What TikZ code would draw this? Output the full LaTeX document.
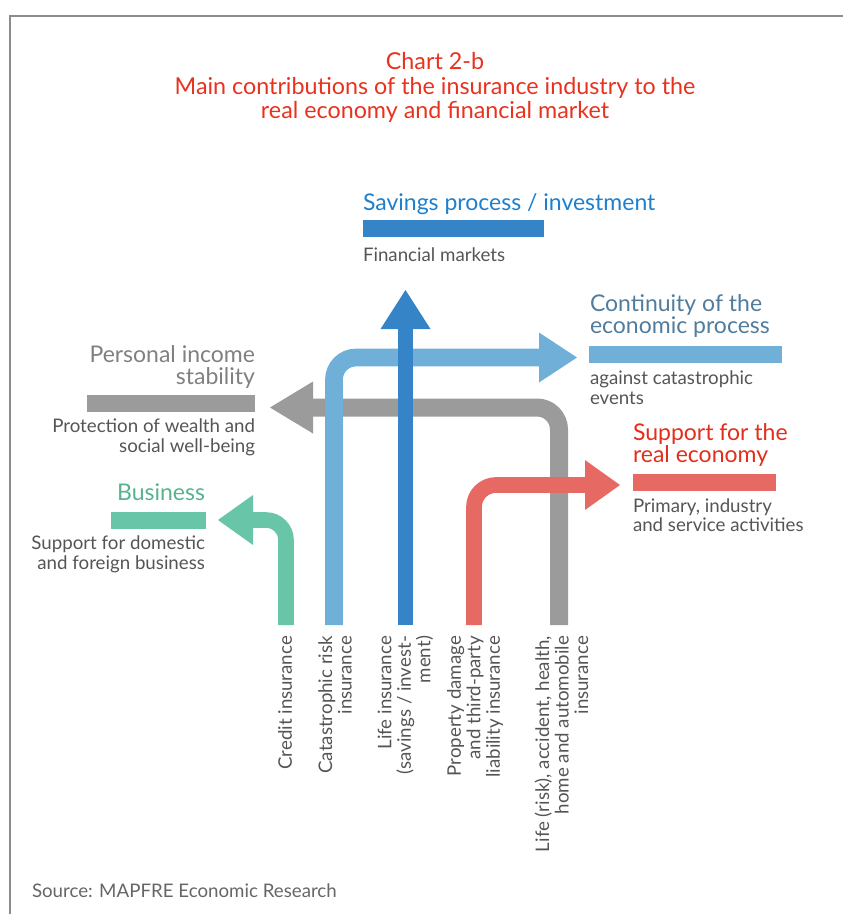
\documentclass[tikz,border=0pt]{standalone}
\usepackage{fontspec}
\setmainfont{Lato}
\usetikzlibrary{arrows.meta}
\definecolor{titlered}{RGB}{232,50,30}
\definecolor{savblue}{RGB}{30,128,205}
\definecolor{contblue}{RGB}{80,124,158}
\definecolor{persgray}{RGB}{128,128,128}
\definecolor{busgreen}{RGB}{88,178,142}
\definecolor{suppred}{RGB}{226,46,26}
\definecolor{bodygray}{RGB}{85,85,85}
\definecolor{framegray}{RGB}{140,140,140}
\definecolor{cdark}{RGB}{53,132,200}
\definecolor{clight}{RGB}{112,176,216}
\definecolor{cgray}{RGB}{155,155,155}
\definecolor{cred}{RGB}{230,106,99}
\definecolor{cgreen}{RGB}{104,197,167}
\newcommand\ttlfnt{\fontsize{23.3}{24.5}\selectfont}
\newcommand\hdfnt{\fontsize{23}{22}\selectfont}
\newcommand\bdfnt{\fontsize{18.7}{19.5}\selectfont}
\tikzset{
  bar/.style={fill=#1, minimum height=17pt, draw=none},
  heading/.style={font=\hdfnt},
  body/.style={font=\bdfnt, text=bodygray},
  vlabel/.style={font=\bdfnt, text=bodygray, rotate=90, anchor=east, align=right},
  flow/.style={draw=#1, line cap=butt, rounded corners=22pt},
}
\begin{document}
\begin{tikzpicture}[x=1pt,y=-1pt, every node/.style={inner sep=0pt, outer sep=0pt}]
\useasboundingbox (0,0) rectangle (843,914);
% frame
\draw[framegray, line width=2pt] (843,16) -- (10,16) -- (10,914);
% title (base = baseline of last line)
\node[font=\ttlfnt, text=titlered, align=center, anchor=base] (title) at (435,118.5)
  {Chart 2-b\\Main contributions of the insurance industry to the\\real economy and financial market};
% bars
\node[bar=cdark, minimum width=181pt] (savbar) at (453.5,228.5) {};
\node[bar=clight, minimum width=193pt] (contbar) at (685.5,354.5) {};
\node[bar=cgray, minimum width=168pt] (persbar) at (171,403.5) {};
\node[bar=cgreen, minimum width=95pt] (busbar) at (158.5,520.5) {};
\node[bar=cred, minimum width=143pt] (suppbar) at (704.5,482.5) {};
% headings and sub texts
\node[heading, text=savblue, anchor=base west] (savt) at (363,210.5) {Savings process / investment};
\node[body, anchor=base west] (savs) at (363,261) {Financial markets};
\node[heading, text=contblue, anchor=base west, align=left] (contt) at (590,333.3) {Continuity of the\\economic process};
\node[body, anchor=base west, align=left] (conts) at (590,404) {against catastrophic\\events};
\node[heading, text=persgray, anchor=base east, align=right] (perst) at (255,384) {Personal income\\stability};
\node[body, anchor=base east, align=right] (perss) at (255,452) {Protection of wealth and\\social well-being};
\node[heading, text=busgreen, anchor=base east] (bust) at (205,500) {Business};
\node[body, anchor=base east, align=right] (buss) at (205,569) {Support for domestic\\and foreign business};
\node[heading, text=suppred, anchor=base west, align=left] (suppt) at (633,462.7) {Support for the\\real economy};
\node[body, anchor=base west, align=left] (supps) at (633,531.7) {Primary, industry\\and service activities};
% arrow coordinates
\coordinate (g0) at (559,625);   \coordinate (gtip) at (270,407.5);
\coordinate (l0) at (334,625);   \coordinate (ltip) at (577,357.5);
\coordinate (d0) at (405.5,625); \coordinate (dtip) at (405.5,290);
\coordinate (r0) at (474,625);   \coordinate (rtip) at (620,485);
\coordinate (n0) at (286,625);   \coordinate (ntip) at (218,520);
% arrows
\draw[flow=cgray, line width=18pt, -{Triangle[length=43pt,width=52pt,line width=0pt]}] (g0) |- (gtip);
\draw[flow=clight, line width=17.7pt, -{Triangle[length=38pt,width=50pt,line width=0pt]}] (l0) |- (ltip);
\draw[flow=cdark, line width=15.6pt, -{Triangle[length=39pt,width=50pt,line width=0pt]}] (d0) -- (dtip);
\draw[flow=cred, line width=15.7pt, -{Triangle[length=35pt,width=50pt,line width=0pt]}] (r0) |- (rtip);
\draw[flow=cgreen, line width=15.6pt, rounded corners=20pt, -{Triangle[length=35pt,width=50pt,line width=0pt]}] (n0) |- (ntip);
% vertical labels
\node[vlabel] (lcredit) at (285,636) {Credit insurance};
\node[vlabel] (lcat) at (335,636) {Catastrophic risk\\insurance};
\node[vlabel] (llife) at (405.5,636) {Life insurance\\(savings / invest-\\ment)};
\node[vlabel] (lprop) at (475,636) {Property damage\\and third-party\\liability insurance};
\node[vlabel] (lrisk) at (561.5,636) {Life (risk), accident, health,\\home and automobile\\insurance};
% source
\node[body, text=bodygray!90, anchor=base west] (src) at (32,897) {Source: MAPFRE Economic Research};
\end{tikzpicture}
\end{document}
